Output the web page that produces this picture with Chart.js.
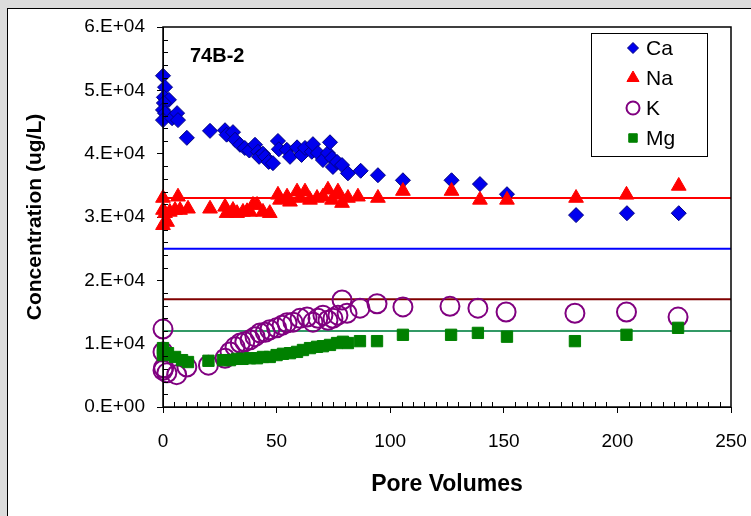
<!DOCTYPE html>
<html>
<head>
<meta charset="utf-8">
<script src="https://cdn.jsdelivr.net/npm/chart.js@4.4.1/dist/chart.umd.min.js"></script>
<style>
  body { margin: 0; background: #dcdcdc; }
  #wrap { width: 751px; height: 516px; position: relative; }
</style>
</head>
<body>
<div id="wrap"><canvas id="myChart" width="751" height="516"></canvas></div>
<script>
// values (x = pore volumes, y = ug/L)
const caX = [0,0.9,0.4,2.6,0.4,0,0.9,0,4,6.2,6.6,10.5,20.7,27.3,28,30.8,31.7,33.9,36,38,40.5,41.8,42.3,44,45,46.5,48.4,50.6,51,54.5,55.9,59,61,62.5,65.5,66,68.2,70.4,72.6,73.5,74.4,74.8,76.6,78.8,81.4,87,94.6,105.6,127,139.5,151.4,181.8,204.2,227]
const caY = [52300,50500,48900,48500,48000,46900,46400,45300,45600,46400,45300,42500,43600,43700,43000,43400,42200,41400,40900,40500,41400,40300,39500,40000,39500,38700,38500,42000,40700,40600,39500,41000,39800,40900,40300,41500,40100,39000,40100,41800,39300,37900,38700,38200,36900,37300,36600,35800,35800,35200,33600,30300,30600,30600]

const naX = [0,6.6,0,0.9,3,5.3,7.5,11,0,1.8,20.7,27.3,28,30.8,32.6,35.2,37,38.3,39.6,41.4,44,47,50.6,51.5,54.6,55.9,59,60.3,62.5,64.7,67.8,70.4,72.6,74.4,76.6,77,78.8,81.4,85.8,94.6,105.6,127,139.5,151.4,181.8,204,227]
const naY = [33000,33200,31100,30600,30800,31100,31100,31300,28700,29200,31300,31600,30600,31100,30600,30800,30900,30800,31900,31900,30800,30600,33500,32700,33200,32400,34000,33000,34000,32700,33000,33200,34300,32700,33500,34000,32200,33000,33200,33000,34100,34100,32700,32700,33000,33500,34900]

const kX = [0,0,0,0.3,1.7,6,10.5,20,27.3,29.5,31.7,34,36,38.3,40.5,42.7,45,47,50,52.4,54.6,57.2,60.3,63.4,66,68.2,70.4,72.6,74.8,77,78.8,81,86.7,94.2,105.6,126.3,138.6,151,181.3,204,226.7]
const kY = [12300,8700,5800,6200,5400,5100,6300,6600,7700,8700,9500,10100,10300,10600,11100,11700,11800,12200,12500,12900,13300,13400,14000,14200,13400,14000,14500,13700,14000,14500,16900,14800,15600,16300,15800,15900,15600,15000,14800,15000,14200]

const mgX = [0,0,0,2.2,5.3,8.4,11,20,26.4,29.5,32.6,35,38.3,41.4,44,47,50,52.8,55.9,59,61.6,64.7,67.8,70.4,73.5,76.6,79.2,81.4,86.7,94.2,105.6,126.8,138.6,151.4,181.3,204,226.7]
const mgY = [9300,8700,8200,8500,7900,7400,7100,7300,7400,7400,7600,7600,7700,7700,7900,7900,8200,8400,8500,8700,9000,9300,9500,9600,9800,10100,10300,10100,10400,10400,11400,11400,11700,11100,10400,11400,12500]

// horizontal reference levels
const refLevels = [33000, 25000, 17000, 12000]
const refColors = ['#ff0000', '#0000ff', '#800000', '#339966']

const seriesNames = ['Ca', 'Na', 'K', 'Mg']
const legendRadius = [5.5, 7, 6.5, 6]
const xTicks = [0, 50, 100, 150, 200, 250]
const yTicks = [0, 10000, 20000, 30000, 40000, 50000, 60000]

const pts = (xs, ys) => xs.map((x, i) => ({ x: x, y: ys[i] }))

const datasets = [
  { label: 'Ca', data: pts(caX, caY), pointStyle: 'rectRot', pointRadius: 7.5, backgroundColor: '#0000ee', borderColor: '#000080', borderWidth: 1, order: 4, clip: false },
  { label: 'Na', data: pts(naX, naY), pointStyle: 'triangle', pointRadius: 8.5, backgroundColor: '#ff0000', borderColor: '#ff0000', borderWidth: 1, order: 3, clip: false },
  { label: 'K', data: pts(kX, kY), pointStyle: 'circle', pointRadius: 9.5, backgroundColor: 'rgba(0,0,0,0)', borderColor: '#800080', borderWidth: 2, order: 2, clip: false },
  { label: 'Mg', data: pts(mgX, mgY), pointStyle: 'rect', pointRadius: 8, backgroundColor: '#008000', borderColor: '#008000', borderWidth: 1, order: 1, clip: false }
]
refLevels.forEach((lv, i) => {
  datasets.push({
    label: 'ref' + i,
    data: [{ x: xTicks[0], y: lv }, { x: xTicks[xTicks.length - 1], y: lv }],
    showLine: true, borderColor: refColors[i], borderWidth: 2, pointRadius: 0, order: 10
  })
})

const FONT = 'Liberation Sans, Arial, sans-serif'

const frame = {
  id: 'frame',
  beforeDraw(chart) {
    const c = chart.ctx
    c.save()
    c.fillStyle = '#dcdcdc'
    c.fillRect(0, 0, chart.width, chart.height)
    c.fillStyle = '#ffffff'
    c.fillRect(7, 8, chart.width, chart.height)
    c.strokeStyle = '#000'
    c.lineWidth = 1
    c.strokeRect(7.5, 8.5, chart.width + 10, chart.height + 10)
    c.restore()
  },
  afterDraw(chart) {
    const c = chart.ctx
    const a = chart.chartArea
    const xs = chart.scales.x, ys = chart.scales.y
    c.save()
    c.strokeStyle = '#000'
    c.lineWidth = 1.5
    c.strokeRect(a.left, a.top, a.right - a.left, a.bottom - a.top)
    // minor ticks inside
    c.lineWidth = 1
    c.beginPath()
    for (let v = 0; v <= 60000; v += 2000) {
      if (v % 10000 === 0) continue
      const y = Math.round(ys.getPixelForValue(v)) + 0.5
      c.moveTo(a.left, y); c.lineTo(a.left + 5, y)
    }
    for (let v = 0; v <= 250; v += 5) {
      if (v % 50 === 0) continue
      const x = Math.round(xs.getPixelForValue(v)) + 0.5
      c.moveTo(x, a.bottom); c.lineTo(x, a.bottom - 5)
    }
    c.stroke()

    // titles
    c.fillStyle = '#000'
    c.font = 'bold 20px ' + FONT
    c.textBaseline = 'middle'
    c.textAlign = 'left'
    c.fillText('74B-2', 190, 56)
    c.font = 'bold 23px ' + FONT
    c.textAlign = 'center'
    c.fillText('Pore Volumes', (a.left + a.right) / 2, 485)
    c.save()
    c.translate(35, (a.top + a.bottom) / 2)
    c.rotate(-Math.PI / 2)
    c.font = 'bold 21px ' + FONT
    c.fillText('Concentration (ug/L)', 0, 0)
    c.restore()

    // legend box
    const lx = 591, ly = 33, lw = 116, lh = 123
    c.fillStyle = '#fff'
    c.fillRect(lx, ly, lw, lh)
    c.strokeStyle = '#000'
    c.lineWidth = 1
    c.strokeRect(lx + 0.5, ly + 0.5, lw, lh)
    seriesNames.forEach((name, i) => {
      const ds = chart.data.datasets[i]
      const cy = ly + 15 + i * 30
      c.fillStyle = ds.backgroundColor
      c.strokeStyle = ds.borderColor
      c.lineWidth = ds.borderWidth
      Chart.helpers.drawPoint(c, { pointStyle: ds.pointStyle, radius: legendRadius[i], borderWidth: ds.borderWidth }, 633, cy)
      c.fillStyle = '#000'
      c.font = '21px ' + FONT
      c.textAlign = 'left'
      c.fillText(name, 646, cy + 1)
    })
    c.restore()
  }
}

const ctx = document.getElementById('myChart')
new Chart(ctx, {
  type: 'scatter',
  data: { datasets: datasets },
  options: {
    responsive: false,
    animation: false,
    layout: { padding: { top: 27, right: 20, left: 0, bottom: 0 } },
    plugins: { legend: { display: false }, tooltip: { enabled: false } },
    scales: {
      x: {
        type: 'linear', min: 0, max: 250,
        afterBuildTicks: s => { s.ticks = xTicks.map(v => ({ value: v })) },
        afterFit: s => { s.height = 109; s.paddingRight = 0 },
        border: { display: true, color: '#000', width: 1 },
        grid: { display: true, drawOnChartArea: false, tickLength: 6, color: '#000' },
        ticks: { color: '#000', padding: 17, font: { family: FONT, size: 19 }, maxRotation: 0 }
      },
      y: {
        type: 'linear', min: 0, max: 60000,
        afterBuildTicks: s => { s.ticks = yTicks.map(v => ({ value: v })) },
        afterFit: s => { s.width = 163 },
        border: { display: true, color: '#000', width: 1 },
        grid: { display: true, drawOnChartArea: false, tickLength: 6, color: '#000' },
        ticks: {
          color: '#000', padding: 12, font: { family: FONT, size: 19 },
          callback: v => v === 0 ? '0.E+00' : (v / 10000) + '.E+04'
        }
      }
    }
  },
  plugins: [frame]
})
</script>
</body>
</html>
